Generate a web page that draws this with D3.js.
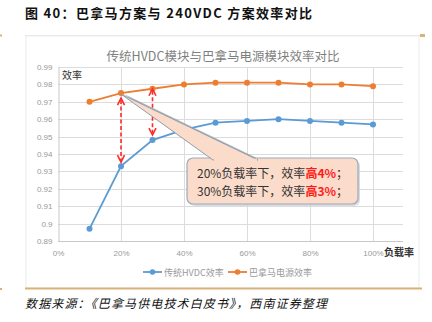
<!DOCTYPE html>
<html><head><meta charset="utf-8">
<script src="https://cdn.jsdelivr.net/npm/d3@7"></script>
<style>
html,body{margin:0;padding:0;background:#fff;}
svg{display:block;}
</style></head>
<body>
<script>
const loads = [0.1,0.2,0.3,0.4,0.5,0.6,0.7,0.8,0.9,1.0];
const hvdc = [0.897,0.933,0.948,0.954,0.958,0.959,0.960,0.959,0.958,0.957];
const panama = [0.970,0.975,0.9775,0.980,0.981,0.981,0.981,0.980,0.980,0.979];
const yTicks = [0.89,0.9,0.91,0.92,0.93,0.94,0.95,0.96,0.97,0.98,0.99];
const xTicks = [0,0.2,0.4,0.6,0.8,1.0];
const seriesNames = ["传统HVDC效率","巴拿马电源效率"];
const mainTitle = "图 40：巴拿马方案与 240VDC 方案效率对比";
const chartTitle = "传统HVDC模块与巴拿马电源模块效率对比";
const footer = "数据来源：《巴拿马供电技术白皮书》，西南证券整理";

const W=432,H=322;
const svg=d3.select("body").append("svg").attr("width",W).attr("height",H);
const FONT="'Noto Sans CJK SC','Noto Sans',sans-serif";

// main title
svg.append("text").attr("x",25).attr("y",18).attr("font-family",FONT)
  .attr("font-size",13).attr("font-weight","bold").attr("fill","#111")
  .attr("textLength",287).attr("lengthAdjust","spacing").text(mainTitle);

// top and bottom rules
svg.append("line").attr("x1",25).attr("x2",421).attr("y1",35.5).attr("y2",35.5).attr("stroke","#e6e6e6").attr("stroke-width",1);
svg.append("rect").attr("x",420).attr("y",34).attr("width",5).attr("height",3).attr("fill","#d9b27a");
svg.append("rect").attr("x",0).attr("y",34.5).attr("width",2).attr("height",2).attr("fill","#d9b27a");
svg.append("rect").attr("x",26).attr("y",36).attr("width",393).attr("height",252).attr("fill","#fff").attr("stroke","#ececec");
svg.append("line").attr("x1",25).attr("x2",422).attr("y1",288.5).attr("y2",288.5).attr("stroke","#d9b27a").attr("stroke-width",2);
svg.append("rect").attr("x",0).attr("y",288).attr("width",2).attr("height",2).attr("fill","#d9b27a");

// scales
const x=d3.scaleLinear().domain([0,1]).range([58,373]);
const y=d3.scaleLinear().domain([0.89,0.99]).range([241,67]);
const plotRight=403;

// gridlines
const g=svg.append("g");
g.selectAll(".hg").data(yTicks).enter().append("line")
  .attr("x1",x(0)).attr("x2",plotRight).attr("y1",d=>Math.round(y(d))+0.5).attr("y2",d=>Math.round(y(d))+0.5)
  .attr("stroke","#dcdcdc").attr("stroke-width",1);
g.selectAll(".vg").data(xTicks.slice(1)).enter().append("line")
  .attr("x1",d=>Math.round(x(d))+0.5).attr("x2",d=>Math.round(x(d))+0.5).attr("y1",y(0.99)).attr("y2",y(0.89))
  .attr("stroke","#dcdcdc").attr("stroke-width",1);
// axes
const yAxis=d3.axisLeft(y).tickValues(yTicks).tickSize(0).tickPadding(6).tickFormat(d=>d3.format("")(+d.toFixed(2)));
const ya=svg.append("g").attr("transform",`translate(${Math.round(x(0))+0.5},0)`).call(yAxis);
ya.select(".domain").attr("stroke","#c8c8c8");
ya.selectAll("text").attr("font-family","'Liberation Sans',Arial,sans-serif").attr("font-size",8).attr("fill","#999");
const xAxis=d3.axisBottom(x).tickValues(xTicks).tickSize(0).tickPadding(9).tickFormat(d3.format(".0%"));
const xa=svg.append("g").attr("transform",`translate(0,${Math.round(y(0.89))+0.5})`).call(xAxis);
xa.select(".domain").attr("d",`M${x(0)},0H${plotRight}`).attr("stroke","#c8c8c8");
xa.selectAll("text").attr("font-family","'Liberation Sans',Arial,sans-serif").attr("font-size",8).attr("fill","#999");

svg.append("text").attr("x",384).attr("y",256).attr("font-family",FONT).attr("font-size",10).attr("font-weight","bold").attr("fill","#333").text("负载率");
svg.append("text").attr("x",62).attr("y",79).attr("font-family",FONT).attr("font-size",10).attr("fill","#333").text("效率");

// chart title
svg.append("text").attr("x",223).attr("y",61).attr("text-anchor","middle").attr("font-family",FONT)
  .attr("font-size",12.5).attr("fill","#7f7f7f").text(chartTitle);

// lines
const colors=["#5b9bd5","#ed7d31"];
[hvdc,panama].forEach((arr,i)=>{
  const line=d3.line().x((d,j)=>x(loads[j])).y(d=>y(d));
  svg.append("path").datum(arr).attr("d",line).attr("fill","none").attr("stroke",colors[i]).attr("stroke-width",1.8);
  svg.selectAll(".pt"+i).data(arr).enter().append("circle")
    .attr("cx",(d,j)=>x(loads[j])).attr("cy",d=>y(d)).attr("r",3).attr("fill",colors[i]);
});

// red dashed double arrows
function arrow(xv,y1,y2){
  const gg=svg.append("g").attr("stroke","#ff2a2a").attr("fill","none").attr("stroke-width",1.6);
  gg.append("line").attr("x1",xv).attr("x2",xv).attr("y1",y1+2).attr("y2",y2-2).attr("stroke-dasharray","4,2.5");
  gg.append("path").attr("d",`M${xv-3.5},${y1+7}L${xv},${y1}L${xv+3.5},${y1+7}`);
  gg.append("path").attr("d",`M${xv-3.5},${y2-7}L${xv},${y2}L${xv+3.5},${y2-7}`);
}
arrow(x(0.2), y(panama[1])+5, y(hvdc[1])-4);
arrow(x(0.3), y(panama[2])+0, y(hvdc[2])-5);

// callout
const px=x(0.2), py=y(panama[1])+1;
const bx=187, byy=158, bw=171, bh=46;
const wedge=`M${px},${py}L258,${byy+2}L213,${byy+2}Z`;
svg.append("path").attr("d",wedge).attr("transform","translate(3,0)").attr("fill","#9aa3ad").attr("opacity",0.8);
svg.append("rect").attr("x",bx+2).attr("y",byy+2).attr("width",bw).attr("height",bh).attr("rx",6).attr("fill","#c9ced6").attr("opacity",0.7);
svg.append("rect").attr("x",bx).attr("y",byy).attr("width",bw).attr("height",bh).attr("rx",6)
  .attr("fill","#fbdcca").attr("stroke","#9caabb").attr("stroke-width",1.2);
svg.append("path").attr("d",wedge).attr("fill","#fbdcca").attr("stroke","#8f9cad").attr("stroke-width",1);
svg.append("rect").attr("x",214).attr("y",byy+0.8).attr("width",43).attr("height",3).attr("fill","#fbdcca");

const lines=[["20%负载率下，效率","高4%","；"],["30%负载率下，效率","高3%","；"]];
lines.forEach((l,i)=>{
  const t=svg.append("text").attr("x",197).attr("y",178+i*18).attr("font-family",FONT).attr("font-size",12).attr("fill","#333");
  t.append("tspan").text(l[0]);
  t.append("tspan").attr("fill","#ff1a1a").attr("font-weight","bold").text(l[1]);
  t.append("tspan").text(l[2]);
});

// legend
const lg=[[143,seriesNames[0],colors[0]],[228,seriesNames[1],colors[1]]];
lg.forEach(([lx,name,c])=>{
  svg.append("line").attr("x1",lx).attr("x2",lx+19).attr("y1",272).attr("y2",272).attr("stroke",c).attr("stroke-width",1.8);
  svg.append("circle").attr("cx",lx+9.5).attr("cy",272).attr("r",2.8).attr("fill",c);
  svg.append("text").attr("x",lx+21).attr("y",275.5).attr("font-family",FONT).attr("font-size",9).attr("fill","#999").text(name);
});

// footer
svg.append("text").attr("x",25).attr("y",308).attr("font-family",FONT).attr("font-size",12)
  .attr("font-style","italic").attr("fill","#111").attr("textLength",302).attr("lengthAdjust","spacing").text(footer);
</script>
</body></html>
